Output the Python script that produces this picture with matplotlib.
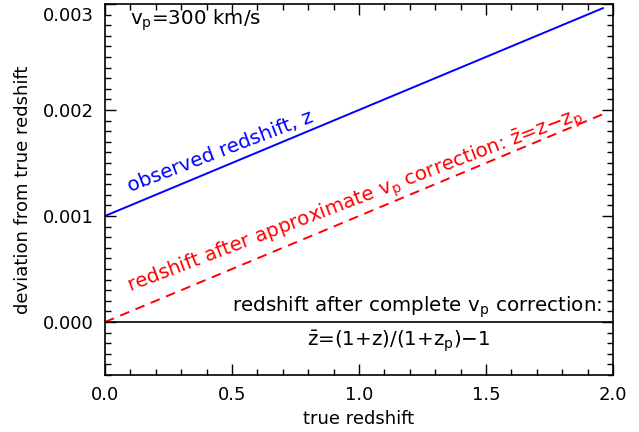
import numpy as np
import matplotlib
matplotlib.use('Agg')
import matplotlib.pyplot as plt
import matplotlib.transforms as mtransforms
from matplotlib.ticker import MultipleLocator

plt.rcParams['font.family'] = 'DejaVu Sans'
plt.rcParams['mathtext.fontset'] = 'dejavusans'
plt.rcParams['mathtext.default'] = 'regular'

# data (v_p = 300 km/s -> z_p ~ 0.001)
z_true = [0.0, 1.96]
dev_observed = [0.001, 0.00296]
dev_approx = [0.0, 0.00196]
z_full = [0.0, 2.0]
dev_complete = [0.0, 0.0]

fig = plt.figure(figsize=(6.39, 4.32), dpi=100)
ax = fig.add_axes([0.1643, 0.1319, 0.795, 0.859])

ax.plot(z_true, dev_observed, color='blue', lw=1.4)
ax.plot(z_true, dev_approx, color='red', lw=1.4, dashes=(5, 3.5))
ax.plot(z_full, dev_complete, color='black', lw=1.2)

ax.set_xlim(0, 2.0)
ax.set_ylim(-0.0005, 0.003)
ax.xaxis.set_major_locator(MultipleLocator(0.5))
ax.xaxis.set_minor_locator(MultipleLocator(0.1))
ax.yaxis.set_major_locator(MultipleLocator(0.001))
ax.yaxis.set_minor_locator(MultipleLocator(0.0001))
ax.xaxis.set_major_formatter(plt.FuncFormatter(lambda v, p: f'{v:.1f}'))
ax.yaxis.set_major_formatter(plt.FuncFormatter(lambda v, p: f'{v:.3f}'))
ax.tick_params(which='both', direction='in', top=True, right=True, labelsize=13, width=1)
ax.tick_params(which='major', length=8, pad=8)
ax.tick_params(which='minor', length=4)
for s in ax.spines.values():
    s.set_linewidth(1.2)

ax.set_xlabel('true redshift', fontsize=13, labelpad=4)
ax.set_ylabel('deviation from true redshift', fontsize=13, labelpad=8)

fig.canvas.draw()
# push the top y label down so it stays inside the figure
for lab in ax.get_yticklabels():
    if lab.get_text() == '0.003':
        lab.set_transform(lab.get_transform() +
                          mtransforms.ScaledTranslation(0, -7 / 72, fig.dpi_scale_trans))

fs = 14.3
ax.text(0.098, 0.0028, r'v$_p$=300 km/s', fontsize=fs)
ax.text(0.098, 0.001226, 'observed redshift, z', color='blue', fontsize=fs,
        rotation=21, rotation_mode='anchor', ha='left', va='baseline')
ax.text(0.098, 0.00028, r'redshift after approximate v$_p$ correction: $\bar{z}$=z$-$z$_p$',
        color='red', fontsize=fs, rotation=20.9, rotation_mode='anchor', ha='left', va='baseline')
ax.text(0.5, 0.0001, r'redshift after complete v$_p$ correction:', fontsize=fs)
ax.text(0.795, -0.00022, r'$\bar{z}$=(1+z)/(1+z$_p$)$-$1', fontsize=fs)

fig.savefig('out.png', dpi=100)
